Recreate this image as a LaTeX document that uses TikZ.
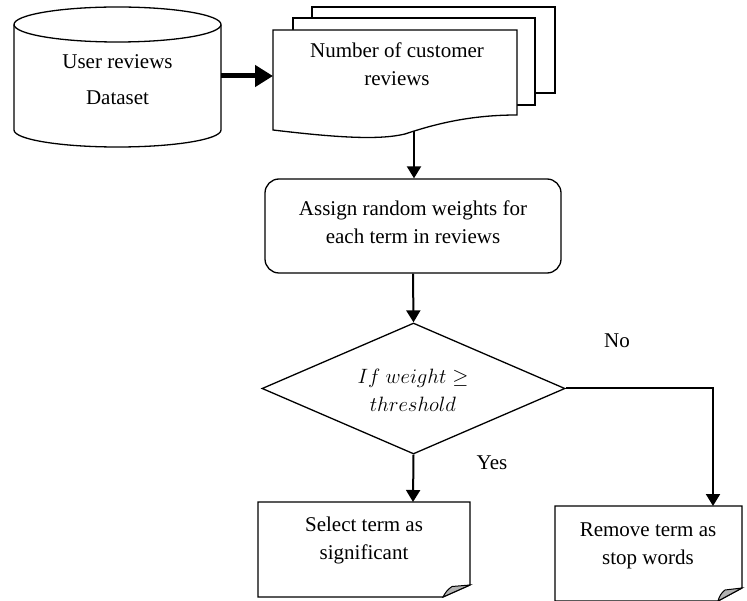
\documentclass[tikz,border=0pt]{standalone}
\usepackage{fontspec}
\setmainfont{Liberation Serif}
\usetikzlibrary{shapes.geometric,arrows.meta}
\begin{document}
\begin{tikzpicture}[x=1pt,y=-1pt,
  shapeline/.style={draw=black,line width=1.3pt,fill=white},
  txt/.style={align=center,font=\fontsize{21}{28}\selectfont,inner sep=0pt},
  conn/.style={line width=2pt,-{Triangle[length=12pt,width=14pt]}},
  thickconn/.style={line width=5pt,-{Triangle[length=18pt,width=21pt]}},
  foldfill/.style={fill=black!30,draw=black,line width=1pt}]
\useasboundingbox (0,0) rectangle (747,601);
% cylinder
\draw[shapeline] (14,25) -- (14,130) arc[start angle=180,end angle=360,x radius=103.5pt,y radius=17pt] -- (221,25);
\draw[shapeline] (117.5,24.5) ellipse[x radius=103.5pt,y radius=17.5pt];
\node[txt] (db) at (117.5,80) {User reviews\\[8pt]Dataset};
\coordinate (dbe) at (221,76);
% document stack
\draw[shapeline] (312,7) rectangle (555,93);
\draw[shapeline] (293,18) rectangle (535,105);
\draw[shapeline] (273,30) -- (517,30) -- (517,115) .. controls (470,115) and (435,124) .. (405,134) .. controls (380,140) and (340,138) .. (273,130) -- cycle;
\node[txt] (doc) at (397,64) {Number of customer\\reviews};
\coordinate (docw) at (273,76);
\coordinate (docb) at (414,131);
% assign
\node[txt,draw,line width=1.3pt,rounded corners=14pt,minimum width=296pt,minimum height=94pt] (assign) at (413,226) {};
\node[txt] (assigntxt) at (413,222) {Assign random weights for\\each term in reviews};
% diamond
\node[diamond,draw,line width=1.3pt,minimum width=303pt,minimum height=131pt,inner sep=0pt] (dec) at (413.5,388.5) {};
\node[txt] (dectxt) at (413,390) {$If\ weight \geq$\\$threshold$};
% select box
\draw[shapeline] (443,597) -- (258,597) -- (258,502) -- (470,502) -- (470,585) -- cycle;
\draw[foldfill] (470,585) -- (452,586.5) .. controls (448,589) and (445,593) .. (443,597) -- cycle;
\coordinate (selt) at (413,502);
\node[txt] (sel) at (364,540) {Select term as\\significant};
% remove box
\draw[shapeline] (718,601) -- (555,601) -- (555,506) -- (742,506) -- (742,588) -- cycle;
\draw[foldfill] (742,588) -- (725,590) .. controls (721,593) and (719,597) .. (718,601) -- cycle;
\coordinate (remt) at (713,506);
\node[txt] (rem) at (648,546) {Remove term as\\stop words};
% connectors
\draw[thickconn] (dbe) -- (docw);
\draw[conn] (docb) -- (assign.north -| docb);
\draw[conn] (assign.south) -- (dec.north);
\draw[conn] (dec.south) -- (selt);
\draw[conn] (dec.east) -| (remt);
\node[txt] (no) at (617,341) {No};
\node[txt] (yes) at (492,463) {Yes};
\end{tikzpicture}
\end{document}
